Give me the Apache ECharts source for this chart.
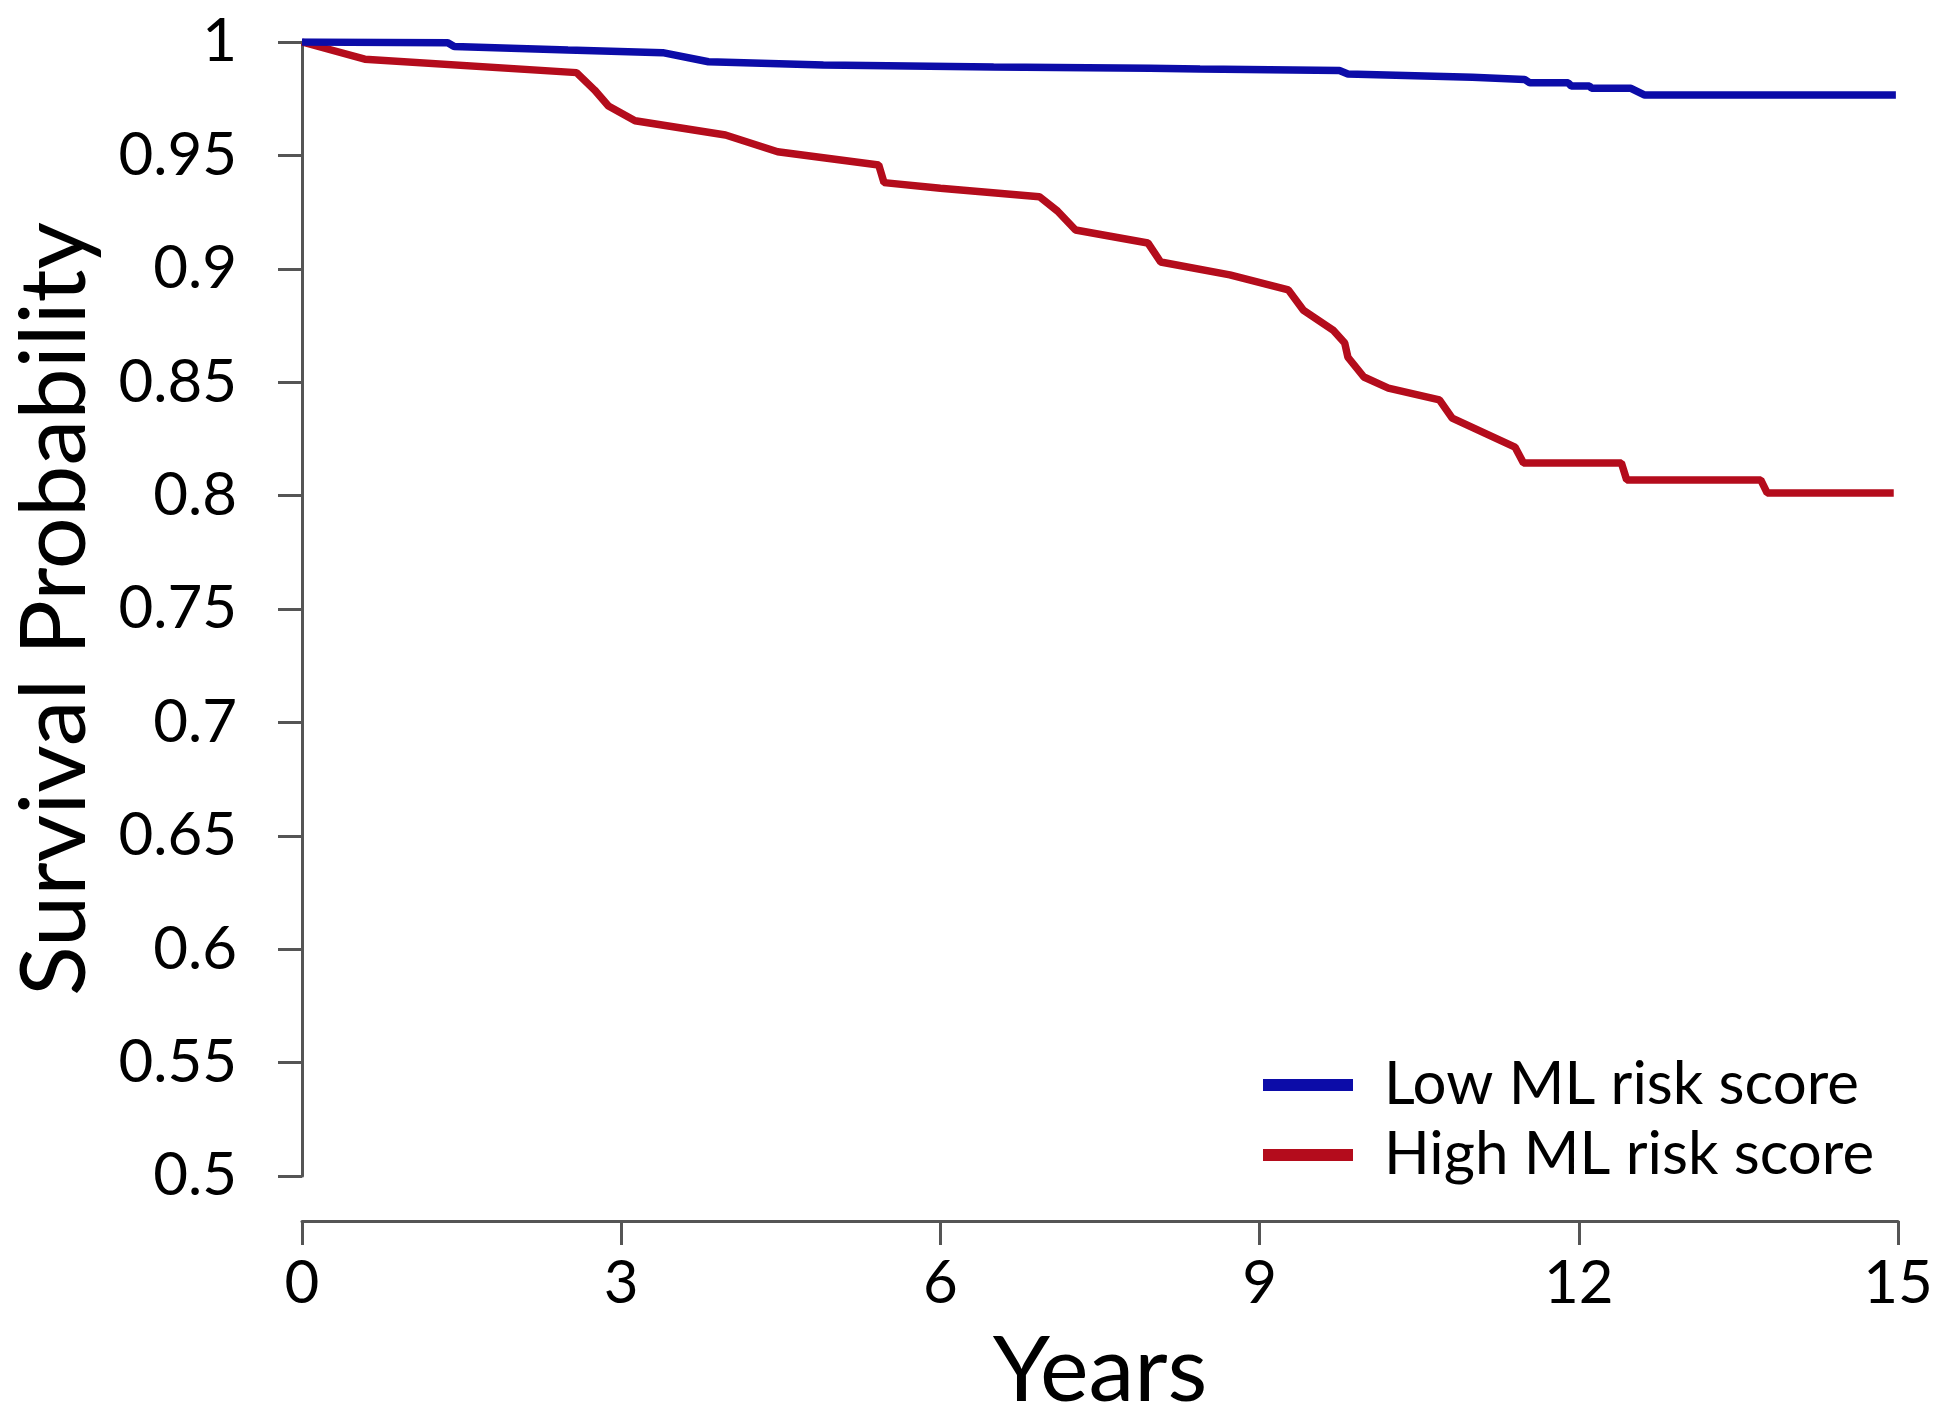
<!DOCTYPE html>
<html>
<head>
<meta charset="utf-8">
<title>Survival Probability</title>
<script src="https://cdn.jsdelivr.net/npm/echarts@6/dist/echarts.min.js"></script>
<style>
  html, body { margin: 0; padding: 0; background: #fff; }
  #main { width: 1950px; height: 1416px; }
</style>
</head>
<body>
<div id="main"></div>
<script>
// Kaplan-Meier curves (years, survival probability)
var lowYears = [0, 1.37, 1.43, 2.5, 3.39, 3.82, 4.9, 6.5, 7.97, 8.44, 9.75, 9.83, 11.0, 11.49, 11.54, 11.9, 11.93, 12.1, 12.12, 12.49, 12.62, 14.98]
var lowSurv = [1, 0.9997, 0.998, 0.9965, 0.9953, 0.9913, 0.9899, 0.989, 0.9884, 0.9881, 0.9874, 0.9859, 0.9845, 0.9835, 0.982, 0.982, 0.9806, 0.9806, 0.9796, 0.9796, 0.9766, 0.9766]

var highYears = [0, 0.59, 2.58, 2.75, 2.88, 3.13, 3.98, 4.47, 5.42, 5.47, 6.0, 6.93, 7.1, 7.27, 7.95, 8.07, 8.72, 9.27, 9.41, 9.69, 9.8, 9.83, 9.98, 10.21, 10.69, 10.81, 11.4, 11.48, 12.4, 12.45, 13.71, 13.77, 14.96]
var highSurv = [1, 0.9924, 0.9865, 0.9788, 0.9718, 0.9653, 0.959, 0.9516, 0.9458, 0.938, 0.9355, 0.9318, 0.9255, 0.9171, 0.9114, 0.903, 0.8973, 0.8907, 0.8818, 0.873, 0.8673, 0.861, 0.8523, 0.8474, 0.8422, 0.8342, 0.8214, 0.8144, 0.8144, 0.8069, 0.8069, 0.8012, 0.8012]

var seriesNames = ['Low ML risk score', 'High ML risk score']
var seriesColors = ['#0c0ca8', '#b40c1c']

function pairs (xs, ys) {
  return xs.map(function (x, i) { return [x, ys[i]] })
}

var axisColor = '#555555'
var font = 'Lato'

var myChart = echarts.init(document.getElementById('main'))
myChart.setOption({
  animation: false,
  backgroundColor: '#ffffff',
  // keep the plot box fixed, don't let v6 shrink it for the axis names
  grid: { left: 302, right: 52, top: 42, bottom: 240, outerBoundsMode: 'none' },
  legend: {
    orient: 'vertical',
    left: 1258,
    top: 1050,
    itemWidth: 90,
    itemHeight: 12,
    itemGap: 10,
    icon: 'rect',
    data: seriesNames,
    textStyle: {
      fontFamily: font,
      fontSize: 60,
      color: '#000',
      lineHeight: 60,
      padding: [0, 0, 0, 26]
    }
  },
  xAxis: {
    type: 'value',
    min: 0,
    max: 15,
    interval: 3,
    offset: 45,
    name: 'Years',
    nameLocation: 'middle',
    nameGap: 104,
    nameTextStyle: { fontFamily: font, fontSize: 92, color: '#000' },
    axisLine: { lineStyle: { color: axisColor, width: 3 } },
    axisTick: { length: 24, lineStyle: { color: axisColor, width: 3 } },
    axisLabel: { margin: 33, fontFamily: font, fontSize: 60, color: '#000' },
    splitLine: { show: false }
  },
  yAxis: {
    type: 'value',
    min: 0.5,
    max: 1,
    interval: 0.05,
    offset: 15,
    name: 'Survival Probability',
    nameLocation: 'middle',
    nameGap: 186,
    nameTextStyle: { fontFamily: font, fontSize: 92, color: '#000' },
    axisLine: { lineStyle: { color: axisColor, width: 3 } },
    axisTick: { length: 24, lineStyle: { color: axisColor, width: 3 } },
    axisLabel: { margin: 50, fontFamily: font, fontSize: 60, color: '#000' },
    splitLine: { show: false }
  },
  series: [
    {
      name: seriesNames[0],
      type: 'line',
      data: pairs(lowYears, lowSurv),
      showSymbol: false,
      symbol: 'none',
      color: seriesColors[0],
      lineStyle: { width: 7.5, color: seriesColors[0] },
      z: 3
    },
    {
      name: seriesNames[1],
      type: 'line',
      data: pairs(highYears, highSurv),
      showSymbol: false,
      symbol: 'none',
      color: seriesColors[1],
      lineStyle: { width: 7.5, color: seriesColors[1] },
      z: 2
    }
  ]
})
</script>
</body>
</html>
